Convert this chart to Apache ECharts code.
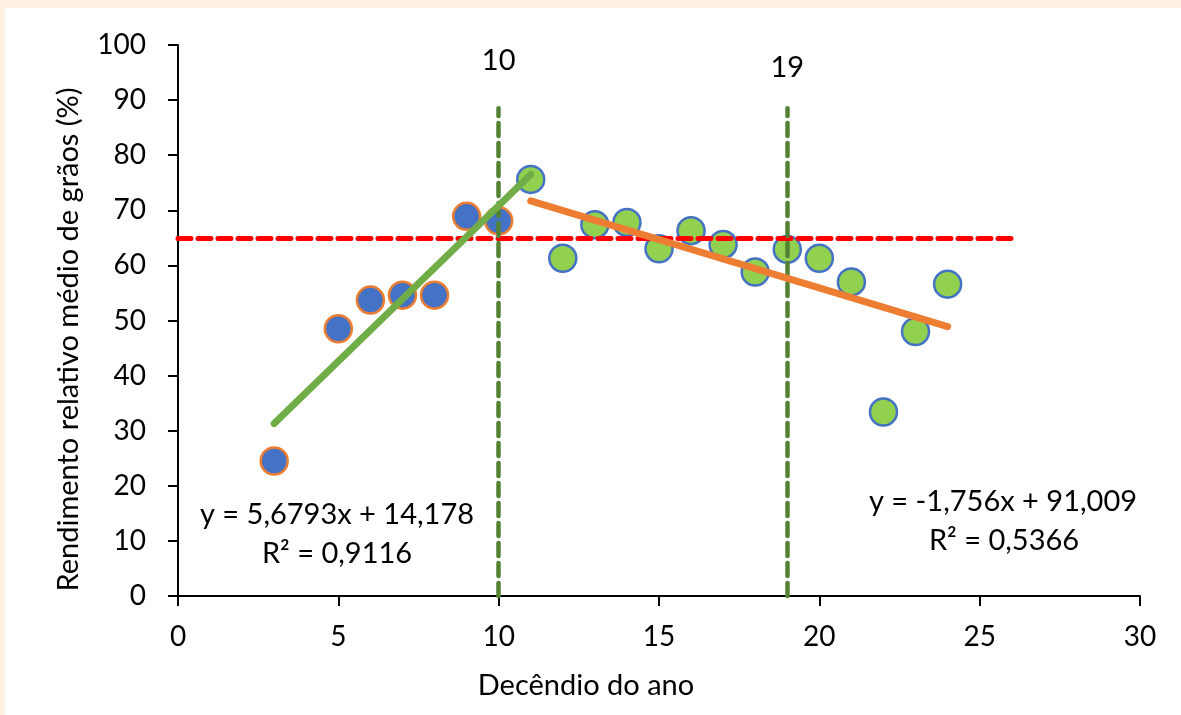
<!DOCTYPE html>
<html>
<head>
<meta charset="utf-8">
<script src="https://cdn.jsdelivr.net/npm/echarts@6/dist/echarts.min.js"></script>
<style>
html,body{margin:0;padding:0;background:#FDF0E0;}
#wrap{position:absolute;left:5px;top:8px;width:1176px;height:707px;background:#ffffff;}
#chart{position:absolute;left:-5px;top:-8px;width:1181px;height:715px;}
</style>
</head>
<body>
<div id="wrap"><div id="chart"></div></div>
<script>
// Decêndio do ano (x) and rendimento relativo (%) (y)
const xBlue = [3, 5, 6, 7, 8, 9, 10];
const yBlue = [24.5, 48.5, 53.7, 54.6, 54.6, 68.9, 68.1];
const xGreen = [11, 12, 13, 14, 15, 16, 17, 18, 19, 20, 21, 22, 23, 24];
const yGreen = [75.6, 61.3, 67.4, 67.8, 63.0, 66.3, 63.8, 58.8, 62.9, 61.3, 57.0, 33.4, 48.0, 56.6];
// trendline endpoints
const trendGreen = [[3, 31.3], [11, 76.5]];
const trendOrange = [[11, 71.7], [24, 48.9]];
// reference lines
const refY = 65, refYEnd = 26;
const vLines = [10, 19];
const vLineTop = 88.5;
const eqLeft = ['y = 5,6793x + 14,178', 'R² = 0,9116'];
const eqRight = ['y = -1,756x + 91,009', 'R² = 0,5366'];
const xTicks = [0, 5, 10, 15, 20, 25, 30];
const yTicks = [0, 10, 20, 30, 40, 50, 60, 70, 80, 90, 100];

const FONT = 'Lato';
const FS = 29;
const chart = echarts.init(document.getElementById('chart'), null, {renderer: 'canvas'});
const pts = (xs, ys) => xs.map((x, i) => [x, ys[i]]);

const option = {
  backgroundColor: 'transparent',
  animation: false,
  textStyle: {fontFamily: FONT},
  grid: {left: 178, right: 41, top: 45, bottom: 119},
  xAxis: {
    type: 'value', min: xTicks[0], max: xTicks[xTicks.length - 1], interval: 5,
    name: 'Decêndio do ano', nameLocation: 'middle', nameGap: 75,
    nameTextStyle: {fontSize: FS, color: '#000', fontFamily: FONT, padding: [0, 146, 0, 0]},
    axisLine: {show: true, lineStyle: {color: '#000', width: 2}},
    axisTick: {show: true, inside: false, length: 10, lineStyle: {color: '#000', width: 2}},
    axisLabel: {fontSize: 28, color: '#000', margin: 27, fontFamily: FONT},
    splitLine: {show: false}
  },
  yAxis: {
    type: 'value', min: yTicks[0], max: yTicks[yTicks.length - 1], interval: 10,
    name: 'Rendimento relativo médio de grãos (%)', nameLocation: 'middle', nameGap: 95,
    nameTextStyle: {fontSize: FS, color: '#000', fontFamily: FONT, padding: [0, 38, 0, 0]},
    axisLine: {show: true, lineStyle: {color: '#000', width: 2}},
    axisTick: {show: true, inside: false, length: 10, lineStyle: {color: '#000', width: 2}},
    axisLabel: {fontSize: 28, color: '#000', margin: 32, fontFamily: FONT},
    splitLine: {show: false}
  },
  series: [
    {
      type: 'line', data: [], silent: true, z: 1,
      markLine: {
        symbol: 'none', silent: true, animation: false,
        lineStyle: {color: '#FF0000', width: 5, type: [13, 7], cap: 'round'},
        label: {show: false},
        data: [[{coord: [0, refY]}, {coord: [refYEnd, refY]}]]
      }
    },
    {
      type: 'line', data: [], silent: true, z: 1,
      markLine: {
        symbol: 'none', silent: true, animation: false,
        lineStyle: {color: '#548235', width: 4.5, type: [13, 7], cap: 'round'},
        label: {show: true, position: 'end', fontSize: FS, color: '#000', fontFamily: FONT, formatter: p => String(vLines[p.dataIndex])},
        data: [
          [{coord: [vLines[0], 0]}, {coord: [vLines[0], vLineTop], label: {distance: 33}}],
          [{coord: [vLines[1], 0]}, {coord: [vLines[1], vLineTop], label: {distance: 26}}]
        ]
      }
    },
    {
      type: 'scatter', data: pts(xBlue, yBlue), symbol: 'circle', symbolSize: 27, z: 3,
      itemStyle: {color: '#4472C4', borderColor: '#ED7D31', borderWidth: 2.5, opacity: 1}
    },
    {
      type: 'scatter', data: pts(xGreen, yGreen), symbol: 'circle', symbolSize: 27, z: 3,
      itemStyle: {color: '#92D050', borderColor: '#4472C4', borderWidth: 2.5, opacity: 1}
    },
    {
      type: 'line', data: trendGreen, symbol: 'none', z: 5,
      lineStyle: {color: '#70AD47', width: 7, cap: 'round'}
    },
    {
      type: 'line', data: trendOrange, symbol: 'none', z: 5,
      lineStyle: {color: '#ED7D31', width: 7, cap: 'round'}
    }
  ],
  graphic: [
    {type: 'text', x: 337, y: 515, style: {text: eqLeft[0], font: FS + 'px ' + FONT, fill: '#000', align: 'center', verticalAlign: 'middle'}},
    {type: 'text', x: 337, y: 554, style: {text: eqLeft[1], font: FS + 'px ' + FONT, fill: '#000', align: 'center', verticalAlign: 'middle'}},
    {type: 'text', x: 1003, y: 502, style: {text: eqRight[0], font: FS + 'px ' + FONT, fill: '#000', align: 'center', verticalAlign: 'middle'}},
    {type: 'text', x: 1004, y: 541, style: {text: eqRight[1], font: FS + 'px ' + FONT, fill: '#000', align: 'center', verticalAlign: 'middle'}}
  ]
};
chart.setOption(option);
</script>
</body>
</html>
